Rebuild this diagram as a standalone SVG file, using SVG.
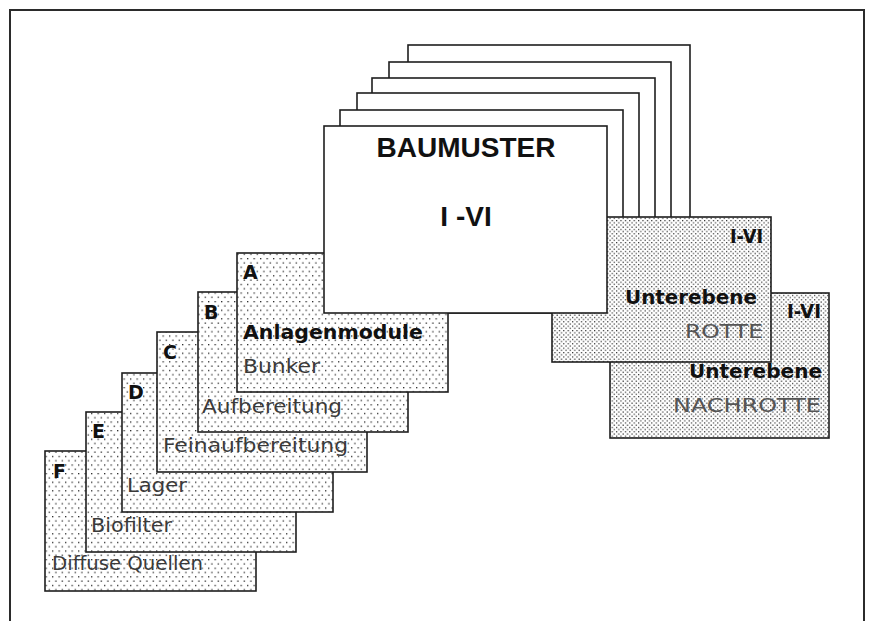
<svg xmlns="http://www.w3.org/2000/svg" width="870" height="621" viewBox="0 0 870 621">
  <defs>
    <!-- sparse stipple for the module cards -->
    <pattern id="dotsSparse" width="6.5" height="8.6" patternUnits="userSpaceOnUse">
      <rect x="0" y="0" width="1.3" height="1.3" fill="#2a2a2a"/>
      <rect x="3.25" y="4.3" width="1.3" height="1.3" fill="#2a2a2a"/>
    </pattern>
    <!-- denser stipple for the sub-level cards -->
    <pattern id="dotsDense" width="4.4" height="4.4" patternUnits="userSpaceOnUse">
      <rect x="0" y="0" width="1.2" height="1.2" fill="#2a2a2a"/>
      <rect x="2.2" y="2.2" width="1.2" height="1.2" fill="#2a2a2a"/>
    </pattern>
    <style>
      .frame { fill: none; stroke: #2b2b2b; stroke-width: 2; }
      .sheet { fill: #ffffff; stroke: #1e1e1e; stroke-width: 1.6; }
      .card { fill: url(#dotsSparse); stroke: #1e1e1e; stroke-width: 1.6; }
      .sub { fill: url(#dotsDense); stroke: #1e1e1e; stroke-width: 1.6; }
      .bg { fill: #ffffff; stroke: none; }
      .key { font-family: "DejaVu Sans", Verdana, sans-serif; font-size: 19px; font-weight: bold; fill: #111; }
      .lbl { font-family: "DejaVu Sans", Verdana, sans-serif; font-size: 19px; fill: #3a3a3a; }
      .sublbl { font-family: "DejaVu Sans", Verdana, sans-serif; font-size: 19px; fill: #555; }
      .title { font-family: "Liberation Sans", Arial, sans-serif; font-size: 28px; font-weight: bold; fill: #111; text-anchor: middle; }
    </style>
  </defs>

  <!-- outer frame -->
  <rect class="frame" x="10" y="10" width="854" height="700"/>

  <!-- stacked type sheets behind the front sheet -->
  <g id="baumuster-stack">
    <rect class="sheet" x="408" y="45" width="282" height="220"/>
    <rect class="sheet" x="389" y="62" width="282" height="220"/>
    <rect class="sheet" x="372" y="78" width="283" height="220"/>
    <rect class="sheet" x="357" y="93" width="282" height="220"/>
    <rect class="sheet" x="340" y="110" width="283" height="200"/>
  </g>

  <!-- sub-level: NACHROTTE -->
  <g id="nachrotte">
    <rect class="bg" x="610" y="293" width="219" height="145"/>
    <rect class="sub" x="610" y="293" width="219" height="145"/>
    <text class="key" x="821" y="318" text-anchor="end" textLength="34" lengthAdjust="spacingAndGlyphs">I-VI</text>
    <text class="key" x="822" y="378" text-anchor="end" textLength="133" lengthAdjust="spacingAndGlyphs">Unterebene</text>
    <text class="sublbl" x="821" y="412" text-anchor="end" textLength="148" lengthAdjust="spacingAndGlyphs">NACHROTTE</text>
  </g>

  <!-- sub-level: ROTTE -->
  <g id="rotte">
    <rect class="bg" x="552" y="217" width="219" height="145"/>
    <rect class="sub" x="552" y="217" width="219" height="145"/>
    <text class="key" x="763" y="243" text-anchor="end" textLength="33" lengthAdjust="spacingAndGlyphs">I-VI</text>
    <text class="key" x="757" y="304" text-anchor="end" textLength="132" lengthAdjust="spacingAndGlyphs">Unterebene</text>
    <text class="sublbl" x="763" y="338" text-anchor="end" textLength="78" lengthAdjust="spacingAndGlyphs">ROTTE</text>
  </g>

  <!-- module cards F (back) to A (front) -->
  <g id="modul-f">
    <rect class="bg" x="45" y="451" width="211" height="140"/>
    <rect class="card" x="45" y="451" width="211" height="140"/>
    <text class="key" x="53" y="478">F</text>
    <text class="lbl" x="52" y="570" textLength="151" lengthAdjust="spacingAndGlyphs">Diffuse Quellen</text>
  </g>
  <g id="modul-e">
    <rect class="bg" x="86" y="412" width="210" height="140"/>
    <rect class="card" x="86" y="412" width="210" height="140"/>
    <text class="key" x="92" y="438">E</text>
    <text class="lbl" x="91" y="532" textLength="81" lengthAdjust="spacingAndGlyphs">Biofilter</text>
  </g>
  <g id="modul-d">
    <rect class="bg" x="122" y="373" width="211" height="139"/>
    <rect class="card" x="122" y="373" width="211" height="139"/>
    <text class="key" x="128" y="399">D</text>
    <text class="lbl" x="127" y="492" textLength="60" lengthAdjust="spacingAndGlyphs">Lager</text>
  </g>
  <g id="modul-c">
    <rect class="bg" x="157" y="332" width="210" height="140"/>
    <rect class="card" x="157" y="332" width="210" height="140"/>
    <text class="key" x="163" y="359">C</text>
    <text class="lbl" x="163" y="452" textLength="185" lengthAdjust="spacingAndGlyphs">Feinaufbereitung</text>
  </g>
  <g id="modul-b">
    <rect class="bg" x="198" y="292" width="210" height="140"/>
    <rect class="card" x="198" y="292" width="210" height="140"/>
    <text class="key" x="204" y="319">B</text>
    <text class="lbl" x="202" y="413" textLength="140" lengthAdjust="spacingAndGlyphs">Aufbereitung</text>
  </g>
  <g id="modul-a">
    <rect class="bg" x="237" y="253" width="211" height="139"/>
    <rect class="card" x="237" y="253" width="211" height="139"/>
    <text class="key" x="243" y="279">A</text>
    <text class="key" x="243" y="339" textLength="180" lengthAdjust="spacingAndGlyphs">Anlagenmodule</text>
    <text class="lbl" x="243" y="373" textLength="77" lengthAdjust="spacingAndGlyphs">Bunker</text>
  </g>

  <!-- front type sheet -->
  <g id="baumuster">
    <rect class="sheet" x="324" y="126" width="283" height="187"/>
    <text class="title" x="466" y="157">BAUMUSTER</text>
    <text class="title" x="466" y="226">I -VI</text>
  </g>

  <!-- no connectors in this figure -->
  <g id="connectors"/>
</svg>
